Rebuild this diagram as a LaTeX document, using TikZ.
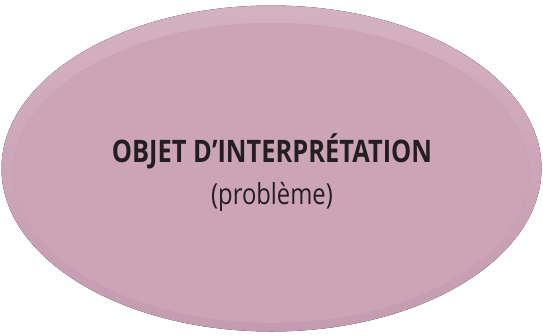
\documentclass[tikz,border=0pt]{standalone}
\usepackage{fontspec}
\setmainfont{Open Sans}[FakeStretch=0.82]
\usetikzlibrary{shapes.geometric}
\definecolor{rimtop}{HTML}{D4B1C1}
\definecolor{rimbot}{HTML}{C59BAF}
\definecolor{body}{HTML}{CDA4B6}
\definecolor{ink}{HTML}{231F20}
\tikzset{
  titletext/.style={font=\bfseries\fontsize{31}{36}\selectfont, text=ink, inner sep=0pt, anchor=base},
  subtext/.style={font=\fontsize{29}{34}\selectfont, text=ink, inner sep=0pt, anchor=base},
}
\begin{document}
\begin{tikzpicture}[x=1pt,y=-1pt]
\useasboundingbox (0,0) rectangle (543,335);
\fill[top color=rimtop, bottom color=rimbot] (271.5,168.5) ellipse [x radius=270, y radius=163];
\fill[body, draw=body!90!black, draw opacity=0.15, line width=0.8pt] (271.5,173) ellipse [x radius=258, y radius=150];
\node[titletext] (title) at (272,162) {OBJET D’INTERPRÉTATION};
\node[subtext] (sub) at (272,204) {(problème)};
\end{tikzpicture}
\end{document}
